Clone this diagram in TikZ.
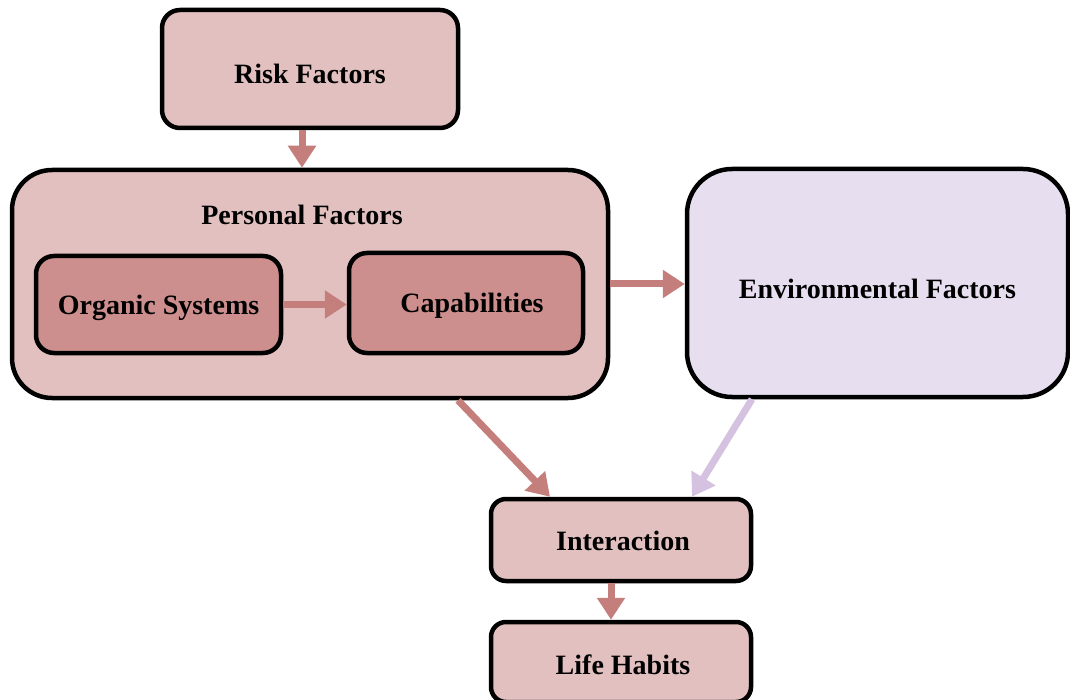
\documentclass[tikz,border=0pt]{standalone}
\usepackage{fontspec}
\setmainfont{Liberation Serif}
\usetikzlibrary{arrows.meta}
\definecolor{boxpink}{HTML}{E2C0C0}
\definecolor{innerpink}{HTML}{CD8F8E}
\definecolor{envlav}{HTML}{E7DFEF}
\definecolor{arrred}{HTML}{C47E7C}
\definecolor{arrlav}{HTML}{D4C2E0}
\newcommand{\lowtext}[2]{\raisebox{-#1}[0pt][0pt]{#2}}
\tikzset{
  box/.style={draw=black, line width=4.5pt, rectangle, inner sep=0pt,
    font=\fontsize{28}{32}\selectfont\bfseries, text=black},
  lbl/.style={inner sep=0pt, font=\fontsize{28}{32}\selectfont\bfseries, text=black},
  arr/.style={draw=arrred, line width=7pt, -{Triangle[length=22pt,width=27pt]}},
  arrl/.style={draw=arrlav, line width=7pt, -{Triangle[length=22pt,width=27pt]}}
}
\begin{document}
\begin{tikzpicture}[x=1pt,y=-1pt]
\useasboundingbox (0,0) rectangle (1070,700);
\node[box, fill=boxpink, rounded corners=18pt, minimum width=296pt, minimum height=118pt] (risk) at (310,69) {\lowtext{14.3pt}{Risk Factors}};
\node[box, fill=boxpink, rounded corners=40pt, minimum width=596pt, minimum height=228pt] (pf) at (310,284) {};
\node[lbl] (pftitle) at (302,215) {Personal Factors};
\node[box, fill=innerpink, rounded corners=18pt, minimum width=245pt, minimum height=97pt] (org) at (158.5,304.5) {\lowtext{10pt}{Organic Systems}};
\node[box, fill=innerpink, rounded corners=18pt, minimum width=234pt, minimum height=100pt] (cap) at (466,303) {\lowtext{9.5pt}{\hspace*{12pt}Capabilities}};
\node[box, fill=envlav, rounded corners=45pt, minimum width=381pt, minimum height=228pt] (env) at (877.5,283) {\lowtext{15.3pt}{Environmental Factors}};
\node[box, fill=boxpink, rounded corners=15pt, minimum width=260pt, minimum height=82pt] (inter) at (621,540) {\lowtext{10.3pt}{\hspace*{4pt}Interaction}};
\node[box, fill=boxpink, rounded corners=15pt, minimum width=260pt, minimum height=80pt] (life) at (621,662) {\lowtext{12.3pt}{\hspace*{4pt}Life Habits}};
\draw[arr] ([xshift=-8pt]risk.south) -- ([xshift=-8pt]risk.south |- pf.north);
\draw[arr] (org.east) -- (org.east -| cap.west);
\draw[arr] (pf.east) -- (pf.east -| env.west);
\draw[arr] ([xshift=148pt]pf.south) -- ([xshift=-71pt]inter.north);
\draw[arrl] ([xshift=-125.5pt]env.south) -- ([xshift=71pt]inter.north);
\draw[arr] ([xshift=-10pt]inter.south) -- ([xshift=-10pt]inter.south |- life.north);
\end{tikzpicture}
\end{document}
